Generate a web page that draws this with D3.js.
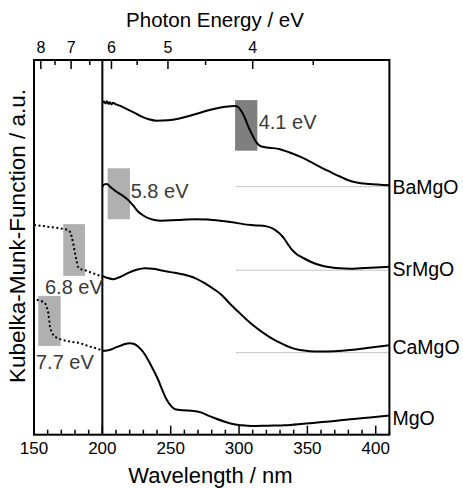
<!DOCTYPE html>
<html><head><meta charset="utf-8">
<script src="https://cdn.jsdelivr.net/npm/d3@7"></script>
<style>
html,body{margin:0;padding:0;background:#fff;}
svg{display:block;font-family:Arial,"Liberation Sans",Helvetica,sans-serif;}
</style></head>
<body><svg id="c" width="463" height="488"></svg>
<script>
// ---------- data ----------
const wlTicks = [150, 200, 250, 300, 350, 400];
const energyMajor = [8, 7, 6, 5, 4];
const energyMinor = [7.5, 6.5, 5.5, 4.5, 3.5];

const BaMgO_wl = [200, 201.2, 202.3, 203.4, 204.5, 205.6, 206.7, 207.8, 209.3, 214, 219, 224, 228.8, 234, 239.8, 248, 255.6, 262, 267.8, 275, 282.4, 290, 297.1, 299.5, 302, 304.4, 306.8, 309.3, 311.7, 314.2, 316.6, 322, 330, 337, 344.6, 352, 359.2, 367, 373.9, 380, 386.1, 395, 410];
const BaMgO_v  = [88.6, 88.9, 88.4, 89.0, 88.3, 88.7, 88.1, 88.6, 88.3, 87.6, 86.7, 85.8, 84.9, 84.2, 83.8, 83.9, 84.3, 84.9, 85.5, 86.3, 87.0, 87.5, 87.7, 87.4, 86.2, 84.4, 82.2, 80.3, 78.6, 77.4, 76.9, 76.6, 76.2, 75.3, 74.2, 72.9, 71.5, 70.1, 68.9, 67.9, 67.3, 66.9, 66.6];

const SrMgO_wl = [200, 201.5, 203.2, 206, 209.3, 214, 219, 222.5, 226.3, 230, 233.6, 238, 243.4, 255, 267.8, 277, 286.1, 295, 303.1, 311, 320.2, 324.8, 329.3, 332.9, 335.8, 338.8, 342.4, 346.8, 352.7, 361.5, 368, 373.9, 381, 388.5, 400, 410];
const SrMgO_v  = [66.2, 66.8, 66.9, 66.1, 65.1, 64.0, 62.6, 61.2, 59.5, 58.5, 57.8, 57.3, 57.1, 57.3, 57.5, 57.4, 57.1, 56.7, 56.2, 55.9, 55.6, 55.0, 53.8, 52.4, 50.8, 49.3, 48.1, 47.2, 46.1, 45.0, 44.6, 44.4, 44.3, 44.4, 44.6, 44.8];

const CaMgO_wl = [200, 204, 208, 213, 219, 225, 231.2, 237, 243.4, 253, 262.9, 269, 275.1, 281, 287.3, 293, 299.5, 305.6, 311.7, 318, 323.9, 329, 333.6, 339, 344.6, 352, 359.2, 370, 381.2, 395, 410];
const CaMgO_v  = [42.4, 41.8, 41.5, 42.1, 43.2, 44.0, 44.4, 44.3, 43.8, 43.2, 42.4, 41.6, 40.4, 39.0, 37.3, 35.1, 32.8, 30.7, 28.8, 27.1, 25.7, 24.7, 23.9, 23.1, 22.6, 22.3, 22.2, 22.3, 22.6, 23.2, 23.9];

const MgO_wl = [200, 203.5, 206.8, 210, 212.9, 216.5, 220.2, 223.3, 226.3, 230, 233.6, 237.3, 240.9, 244, 247.1, 250.2, 253.2, 259, 265.4, 272.7, 277.5, 282.4, 288.5, 294.6, 302, 309.3, 321, 333.6, 347, 359, 371.5, 384, 395.8, 410];
const MgO_v  = [22.4, 22.5, 22.8, 23.3, 23.7, 24.2, 24.4, 24.2, 23.5, 22.0, 19.9, 17.3, 14.6, 11.8, 9.3, 7.7, 6.8, 6.5, 6.4, 5.9, 5.1, 4.4, 3.6, 2.9, 2.5, 2.3, 2.4, 2.5, 2.9, 3.3, 3.7, 4.2, 4.6, 5.1];

const ext68_wl = [150, 160, 170, 175.1, 176.5, 177.6, 178.8, 180, 181.2, 182.4, 184, 186.1, 193, 200];
const ext68_v  = [56.0, 55.5, 55.0, 54.6, 54.0, 52.8, 50.8, 48.4, 46.3, 44.7, 44.2, 44.0, 43.1, 42.2];

const ext77_wl = [152, 155, 158, 159.3, 160.5, 161.1, 161.7, 162.9, 164.1, 166.5, 169, 176, 183.7, 191, 198.8, 200];
const ext77_v  = [36.0, 35.7, 35.1, 34.0, 32.4, 30.6, 28.8, 27.5, 26.6, 25.9, 25.5, 24.9, 24.4, 23.5, 22.6, 22.4];

const seriesNames = ["BaMgO", "SrMgO", "CaMgO", "MgO"];
const seriesWl = [BaMgO_wl, SrMgO_wl, CaMgO_wl, MgO_wl];
const seriesV  = [BaMgO_v, SrMgO_v, CaMgO_v, MgO_v];
const baselineV = [66.2, 43.9, 21.9];      // dotted reference levels (BaMgO, SrMgO, CaMgO)
const baselineFrom = 298;

const gapLabels = ["4.1 eV", "5.8 eV", "6.8 eV", "7.7 eV"];
const gapWl0 = [297.1, 203.9, 171.4, 153.1];
const gapWl1 = [313.4, 220.2, 187.3, 169.5];
const gapV0  = [75.8, 57.5, 42.4, 23.7];
const gapV1  = [89.3, 71.1, 56.2, 37.0];

// ---------- layout ----------
const svg = d3.select("#c");
const L = 34, R = 389.4, T = 60, B = 434.7;
const x = d3.scaleLinear().domain([150, 410]).range([L, R]);
const y = d3.scaleLinear().domain([0, 100]).range([B, T]);

// gap boxes
const boxFill = ["#7f7f7f", "#b0b0b0", "#b0b0b0", "#b0b0b0"];
gapLabels.forEach((g, i) => {
  svg.append("rect")
    .attr("x", x(gapWl0[i])).attr("y", y(gapV1[i]))
    .attr("width", x(gapWl1[i]) - x(gapWl0[i]))
    .attr("height", y(gapV0[i]) - y(gapV1[i]))
    .attr("fill", boxFill[i]);
});

// dotted baselines
baselineV.forEach(v => {
  svg.append("line")
    .attr("x1", x(baselineFrom)).attr("x2", R)
    .attr("y1", y(v)).attr("y2", y(v))
    .attr("stroke", "#8a8a8a").attr("stroke-width", 1)
    .attr("stroke-dasharray", "1,1");
});

// curves
const line = d3.line().x(d => x(d[0])).y(d => y(d[1])).curve(d3.curveMonotoneX);
seriesWl.forEach((wl, i) => {
  const pts = wl.map((w, j) => [w, seriesV[i][j]]);
  svg.append("path").attr("d", line(pts))
    .attr("fill", "none").attr("stroke", "#000").attr("stroke-width", 2)
    .attr("stroke-linejoin", "round");
});
[[ext68_wl, ext68_v], [ext77_wl, ext77_v]].forEach(([wl, vv]) => {
  const pts = wl.map((w, j) => [w, vv[j]]);
  svg.append("path").attr("d", line(pts))
    .attr("fill", "none").attr("stroke", "#000").attr("stroke-width", 2)
    .attr("stroke-dasharray", "2,2.5");
});

// frame
svg.append("rect").attr("x", L).attr("y", T).attr("width", R - L).attr("height", B - T)
  .attr("fill", "none").attr("stroke", "#000").attr("stroke-width", 2);
svg.append("line").attr("x1", x(200)).attr("x2", x(200)).attr("y1", T).attr("y2", B)
  .attr("stroke", "#000").attr("stroke-width", 2);

// bottom axis
const bottomAx = svg.append("g").attr("transform", `translate(0,${B})`);
const minorWl = d3.range(150, 411, 10).filter(v => v % 50 !== 0);
bottomAx.selectAll("line.mn").data(minorWl).join("line")
  .attr("x1", d => x(d)).attr("x2", d => x(d)).attr("y1", 0).attr("y2", -5)
  .attr("stroke", "#000").attr("stroke-width", 1.5);
bottomAx.selectAll("line.mj").data(wlTicks).join("line")
  .attr("x1", d => x(d)).attr("x2", d => x(d)).attr("y1", 0).attr("y2", -9)
  .attr("stroke", "#000").attr("stroke-width", 1.5);
bottomAx.selectAll("text").data(wlTicks).join("text")
  .attr("x", d => x(d)).attr("y", 19.6).attr("text-anchor", "middle")
  .attr("font-size", 17).text(d => d);
svg.append("text").attr("x", 210.5).attr("y", 482.5).attr("text-anchor", "middle")
  .attr("font-size", 22).text("Wavelength / nm");

// top axis (photon energy)
const topAx = svg.append("g").attr("transform", `translate(0,${T})`);
topAx.selectAll("line.mn").data(energyMinor).join("line")
  .attr("x1", d => x(1240 / d)).attr("x2", d => x(1240 / d)).attr("y1", 0).attr("y2", 5)
  .attr("stroke", "#000").attr("stroke-width", 1.5);
topAx.selectAll("line.mj").data(energyMajor).join("line")
  .attr("x1", d => x(1240 / d)).attr("x2", d => x(1240 / d)).attr("y1", 0).attr("y2", 9)
  .attr("stroke", "#000").attr("stroke-width", 1.5);
topAx.selectAll("text").data(energyMajor).join("text")
  .attr("x", d => x(1240 / d)).attr("y", -6.7).attr("text-anchor", "middle")
  .attr("font-size", 16).text(d => d);
svg.append("text").attr("x", 215).attr("y", 26.7).attr("text-anchor", "middle")
  .attr("font-size", 20.5).text("Photon Energy / eV");

// y label
svg.append("text").attr("transform", "translate(25,236) rotate(-90)")
  .attr("text-anchor", "middle").attr("font-size", 22.5)
  .text("Kubelka-Munk-Function / a.u.");

// series labels
seriesNames.forEach((n, i) => {
  const v = seriesV[i][seriesV[i].length - 1];
  svg.append("text").attr("x", R + 3).attr("y", y(v) + 2)
    .attr("dominant-baseline", "central").attr("font-size", 19.5).text(n);
});

// gap labels
const gapLblX = [258.7, 130.7, 45, 36];
const gapLblY = [121.7, 190.7, 286.7, 361.7];
gapLabels.forEach((g, i) => {
  svg.append("text").attr("x", gapLblX[i]).attr("y", gapLblY[i])
    .attr("dominant-baseline", "central").attr("font-size", 20)
    .attr("fill", "#3a3a3a").text(g);
});
</script></body></html>
